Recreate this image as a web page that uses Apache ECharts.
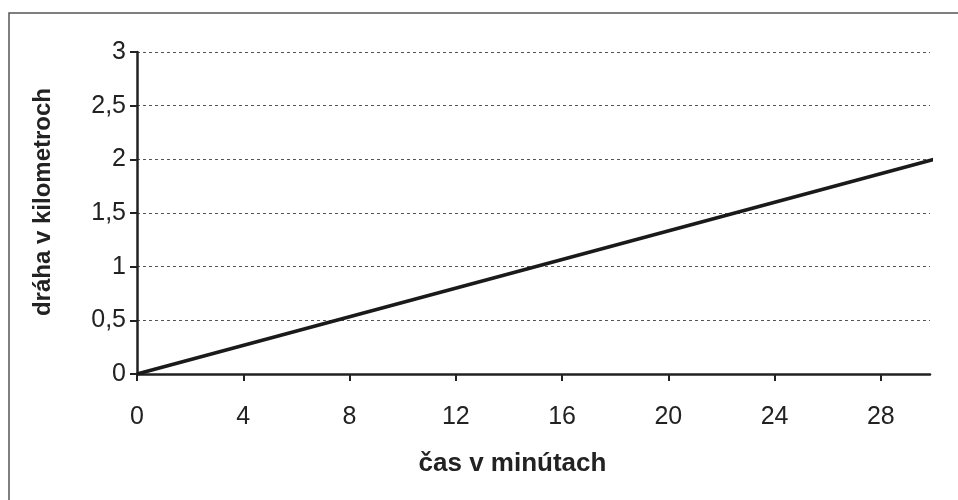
<!DOCTYPE html>
<html>
<head>
<meta charset="utf-8">
<script src="https://cdn.jsdelivr.net/npm/echarts@6/dist/echarts.min.js"></script>
<style>
  html, body { margin: 0; padding: 0; background: #fff; }
  #chart { width: 958px; height: 500px; }
</style>
</head>
<body>
<div id="chart"></div>
<script>
// čas (min) a dráha (km)
const casMin = [0, 30];
const drahaKm = [0, 2];
const xTicks = [0, 4, 8, 12, 16, 20, 24, 28];
const xMax = 29.85;
const yMax = 3;

const points = casMin.map((t, i) => [t, drahaKm[i]]);

const chart = echarts.init(document.getElementById('chart'));
const font = 'Liberation Sans, Arial, sans-serif';

chart.setOption({
    animation: false,
    graphic: [
        {
            type: 'rect',
            shape: { x: 9, y: 13, width: 1000, height: 600 },
            style: { fill: 'none', stroke: '#555', lineWidth: 1.5 },
            silent: true
        }
    ],
    grid: { left: 137, top: 52, right: 28, bottom: 126 },
    xAxis: {
        type: 'value',
        min: 0,
        max: xMax,
        name: 'čas v minútach',
        nameLocation: 'middle',
        nameGap: 77,
        nameTextStyle: {
            fontFamily: font, fontSize: 26, fontWeight: 'bold', color: '#222',
            padding: [0, 42, 0, 0]
        },
        axisLine: { lineStyle: { color: '#222', width: 2.5 } },
        axisTick: { show: true, length: 7, customValues: xTicks, lineStyle: { color: '#222', width: 2 } },
        axisLabel: {
            customValues: xTicks,
            margin: 31,
            fontFamily: font,
            fontSize: 25,
            color: '#222'
        },
        splitLine: { show: false }
    },
    yAxis: {
        type: 'value',
        min: 0,
        max: yMax,
        interval: 0.5,
        name: 'dráha v kilometroch',
        nameLocation: 'middle',
        nameRotate: 90,
        nameGap: 82,
        nameTextStyle: {
            fontFamily: font, fontSize: 24, fontWeight: 'bold', color: '#222',
            padding: [0, 0, 0, 22]
        },
        axisLine: { show: true, lineStyle: { color: '#222', width: 2.5 } },
        axisTick: { show: true, length: 7, lineStyle: { color: '#222', width: 2 } },
        axisLabel: {
            margin: 11,
            fontFamily: font,
            fontSize: 25,
            color: '#222',
            formatter: v => String(v).replace('.', ',')
        },
        splitLine: { show: true, lineStyle: { color: '#555', width: 1, type: [3, 3] } }
    },
    series: [
        {
            type: 'line',
            data: points,
            symbol: 'none',
            clip: true,
            lineStyle: { color: '#1a1a1a', width: 3.5 }
        }
    ]
});
</script>
</body>
</html>
